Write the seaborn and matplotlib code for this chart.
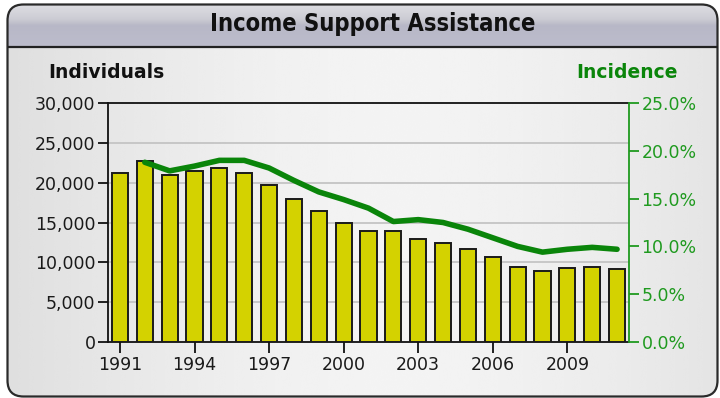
import numpy as np
import matplotlib
matplotlib.use("Agg")
import matplotlib.pyplot as plt
import seaborn as sns
from matplotlib.patches import FancyBboxPatch
from matplotlib.ticker import FuncFormatter, FixedLocator

# Income Support Assistance: individuals (bars) and incidence (line)
years = [1991, 1992, 1993, 1994, 1995, 1996, 1997, 1998, 1999, 2000, 2001,
         2002, 2003, 2004, 2005, 2006, 2007, 2008, 2009, 2010, 2011]
individuals = [21200, 22700, 20900, 21500, 21900, 21200, 19700, 17900, 16400,
               14900, 13900, 13900, 12900, 12400, 11700, 10700, 9450, 8950,
               9250, 9450, 9200]
incidence_years = [1992, 1993, 1994, 1995, 1996, 1997, 1998, 1999, 2000, 2001,
                   2002, 2003, 2004, 2005, 2006, 2007, 2008, 2009, 2010, 2011]
incidence = [18.8, 17.9, 18.4, 19.0, 19.0, 18.2, 16.9, 15.7, 14.9, 14.0,
             12.6, 12.8, 12.5, 11.8, 10.9, 10.0, 9.4, 9.7, 9.9, 9.7]
year_ticks = [1991, 1994, 1997, 2000, 2003, 2006, 2009]
left_ticks = [0, 5000, 10000, 15000, 20000, 25000, 30000]
right_ticks = [0, 5, 10, 15, 20, 25]

title = "Income Support Assistance"
left_label = "Individuals"
right_label = "Incidence"

BAR = "#d4d200"
GREEN = "#0a850a"
GREEN_TXT = "#1f9a1f"

sns.set_theme(style="white")
plt.rcParams["font.family"] = ["DejaVu Sans"]

W, H = 720, 398
fig = plt.figure(figsize=(W / 100, H / 100), dpi=100)
fig.patch.set_facecolor("white")

# ---- panel background with rounded frame and header band ----
bg = fig.add_axes([0, 0, 1, 1], zorder=-10)
bg.set_xlim(0, W)
bg.set_ylim(H, 0)
bg.axis("off")

x0, y0, x1, y1 = 7.5, 4.5, 717.5, 396.5
panel = FancyBboxPatch((x0, y0), x1 - x0, y1 - y0,
                       boxstyle="round,pad=0,rounding_size=16",
                       facecolor="none", edgecolor="none")
bg.add_patch(panel)

# body: soft horizontal gradient
xs = np.linspace(0, 1, 256)
body_vals = 0.955 - 0.07 * (2 * np.abs(xs - 0.55)) ** 1.6
body_img = np.tile(body_vals, (2, 1))
im = bg.imshow(body_img, cmap="gray", vmin=0, vmax=1, aspect="auto",
               extent=(x0, x1, y1, y0), interpolation="bicubic")
im.set_clip_path(panel)

# header: vertical gradient
hy0, hy1 = y0, 47
hv = np.linspace(0, 1, 64)
r = np.interp(hv, [0, 0.35, 0.5, 1], [0.87, 0.80, 0.72, 0.74])
g = np.interp(hv, [0, 0.35, 0.5, 1], [0.87, 0.80, 0.72, 0.74])
b = np.interp(hv, [0, 0.35, 0.5, 1], [0.89, 0.83, 0.78, 0.80])
head_img = np.stack([r, g, b], axis=-1)[:, None, :]
head_img = np.repeat(head_img, 2, axis=1)
im2 = bg.imshow(head_img, aspect="auto", extent=(x0, x1, hy1, hy0),
                interpolation="bicubic")
im2.set_clip_path(panel)
bg.plot([x0, x1], [hy1, hy1], color="#222222", lw=1.6, solid_capstyle="butt")

frame = FancyBboxPatch((x0, y0), x1 - x0, y1 - y0,
                       boxstyle="round,pad=0,rounding_size=16",
                       facecolor="none", edgecolor="#2a2a2a", lw=1.6)
bg.add_patch(frame)

bg.text(373, 24, title, ha="center", va="center", fontsize=17,
        fontweight="bold", fontstretch="condensed", color="#111111",
        family=["DejaVu Sans"])
bg.text(106, 73, left_label, ha="center", va="center", fontsize=13.5,
        fontweight="bold", color="#111111")
bg.text(627, 73, right_label, ha="center", va="center", fontsize=13.5,
        fontweight="bold", color=GREEN)

# ---- main axes: bars ----
L, R, T, B = 108, 629, 103, 342
ax = fig.add_axes([L / W, 1 - B / H, (R - L) / W, (B - T) / H])
ax.set_facecolor("none")

sns.barplot(x=years, y=individuals, native_scale=True, color=BAR,
            saturation=1, edgecolor="#1a1a1a", linewidth=1.4, width=0.65,
            ax=ax, zorder=3)

ax.set_xlim(years[0] - 0.48, years[-1] + 0.48)
ax.set_ylim(left_ticks[0], left_ticks[-1])
ax.yaxis.set_major_locator(FixedLocator(left_ticks))
ax.yaxis.set_major_formatter(FuncFormatter(lambda v, p: f"{int(v):,}"))
ax.xaxis.set_major_locator(FixedLocator(year_ticks))
ax.xaxis.set_major_formatter(FuncFormatter(lambda v, p: f"{int(round(v))}"))
ax.set_xlabel("")
ax.set_ylabel("")

for yv in left_ticks[1:-1]:
    ax.axhline(yv, color="#c4c4c4", lw=1.3, zorder=1)

for side in ["left", "bottom", "top"]:
    ax.spines[side].set_visible(True)
    ax.spines[side].set_color("#111111")
    ax.spines[side].set_linewidth(1.3)
ax.spines["right"].set_visible(False)

ax.tick_params(axis="y", which="major", direction="out", length=7, width=1.3,
               color="#111111", labelsize=12.5, labelcolor="#1a1a1a", pad=2,
               left=True)
ax.tick_params(axis="x", which="major", direction="out", length=8, width=1.3,
               color="#111111", labelsize=12.5, labelcolor="#1a1a1a", pad=2,
               bottom=True)

# ---- secondary axes: incidence line ----
ax2 = ax.twinx()
ax2.set_facecolor("none")
sns.lineplot(x=incidence_years, y=incidence, color=GREEN, lw=4,
             ax=ax2, zorder=5, solid_capstyle="round", solid_joinstyle="round")
ax2.set_ylim(right_ticks[0], right_ticks[-1])
ax2.yaxis.set_major_locator(FixedLocator(right_ticks))
ax2.yaxis.set_major_formatter(FuncFormatter(lambda v, p: f"{v:.1f}%"))
ax2.set_ylabel("")
for side in ["left", "bottom", "top"]:
    ax2.spines[side].set_visible(False)
ax2.spines["right"].set_color(GREEN_TXT)
ax2.spines["right"].set_linewidth(1.3)
ax2.tick_params(axis="y", which="major", direction="out", length=7, width=1.3,
                color=GREEN_TXT, labelsize=12.5, labelcolor=GREEN_TXT, pad=2,
                right=True)
ax2.grid(False)
ax.grid(False)

fig.savefig("out.png", dpi=100)
